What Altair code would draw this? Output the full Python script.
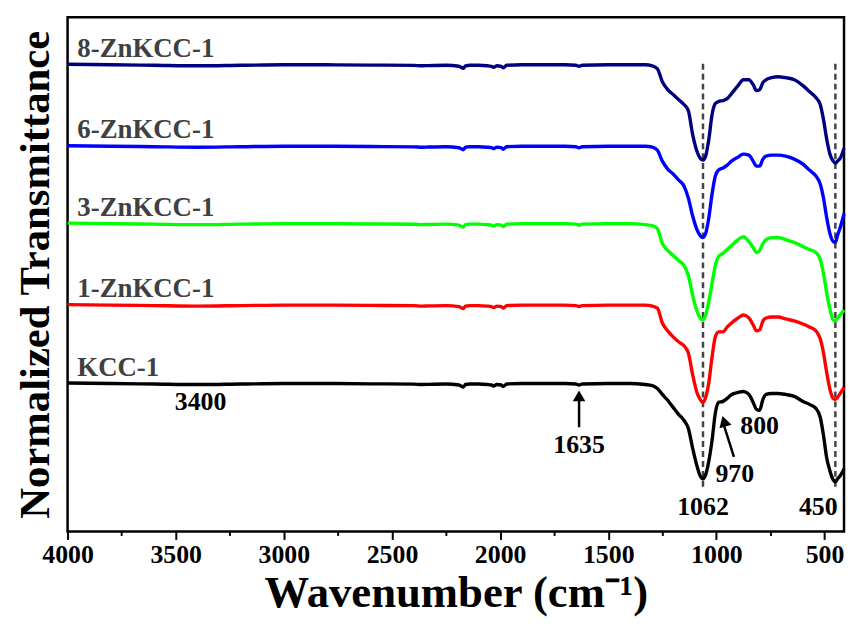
import altair as alt
import pandas as pd

# ---- data ----
SAMPLES = ["8-ZnKCC-1", "6-ZnKCC-1", "3-ZnKCC-1", "1-ZnKCC-1", "KCC-1"]
COLORS = ["#000080", "#0000FF", "#00FF00", "#FF0000", "#000000"]
OFFSETS = [4.70, 3.88, 3.10, 2.28, 1.49]

# flat region (shared)
FLAT_WN = [4000, 3800, 3600, 3400, 3200, 3000, 2800, 2600, 2400, 2360, 2330, 2250,
           2190, 2170, 2160, 2140, 2100, 2060, 2040, 2030, 2015, 1995, 1985, 1970,
           1900, 1800, 1700, 1650, 1635, 1620, 1500, 1400]
FLAT_DEPTH = [-0.5, 0, 0.5, 1, 0.5, 0, 0, 0.3, 0.6, 1.0, 0.8, 0.5,
              1.5, 3.5, 1, 0.5, 0.5, 1, 1.5, 2.5, 1, 1.5, 3, 0.5,
              0, 0, 0, 0.5, 1.5, 0.5, 0, 0]

# fingerprint region
FP_WN = [1330, 1296, 1273, 1250, 1225, 1200, 1175, 1150, 1130, 1110, 1090, 1075,
         1062, 1050, 1035, 1020, 1005, 990, 970, 950, 930, 900, 875, 850, 830,
         815, 800, 785, 770, 745, 715, 680, 640, 600, 570, 540, 520, 505, 490,
         475, 460, 450, 440, 425, 410]
DEPTH_8 = [0, 1, 4, 17, 25, 30, 35, 40, 46, 70, 87, 94,
           96, 92, 75, 50, 39, 37, 36, 34, 29, 21, 15, 15, 20,
           26, 25, 18, 15, 13, 12, 13, 15, 21, 27, 33, 40, 55, 75,
           90, 97, 99, 97, 93, 84]
DEPTH_6 = [0, 1, 4, 15, 23, 28, 34, 40, 52, 70, 84, 90,
           92, 88, 72, 48, 30, 24, 22, 19, 15, 11, 8, 9, 15,
           20, 20, 13, 10, 9, 9, 10, 13, 18, 24, 30, 38, 52, 72,
           88, 96, 97, 90, 80, 68]
DEPTH_3 = [1, 2, 5, 20, 27, 32, 37, 42, 52, 72, 88, 95,
           97, 92, 78, 60, 42, 33, 30, 26, 22, 16, 13, 18, 24,
           29, 27, 20, 16, 14, 14, 16, 19, 23, 26, 29, 36, 50, 70,
           86, 97, 98, 95, 91, 87]
DEPTH_1 = [0, 1, 3, 18, 26, 32, 37, 41, 48, 70, 88, 95,
           98, 93, 78, 52, 32, 27, 27, 22, 18, 13, 10, 13, 20,
           26, 25, 16, 13, 12, 12, 14, 16, 19, 22, 26, 34, 48, 68,
           85, 94, 95, 93, 88, 83]
DEPTH_K = [1, 2, 5, 11, 17, 24, 31, 37, 45, 65, 83, 93,
           96, 92, 78, 57, 30, 19, 18, 15, 11, 9, 8, 11, 19,
           26, 27, 16, 11, 10, 10, 11, 13, 18, 21, 25, 34, 52, 75,
           88, 97, 99, 96, 92, 86]
DEPTHS = [DEPTH_8, DEPTH_6, DEPTH_3, DEPTH_1, DEPTH_K]

DASH_WN = [1062, 450]
DASH_TOP = 4.71
DASH_BOTTOM = 0.41

ANN_TEXT = ["3400", "1635", "1062", "450", "970", "800"]
ANN_X = [3385, 1635, 1062, 529, 915, 800]
ANN_Y = [1.30, 0.87, 0.25, 0.25, 0.58, 1.06]

LABEL_X = 3955
LABEL_DY = 0.16

# arrows: tail -> head
ARROW_X = [1635, 919]
ARROW_Y = [1.05, 0.75]
ARROW_X2 = [1635, 967]
ARROW_Y2 = [1.37, 1.08]
HEAD_X = [1635, 965]
HEAD_Y = [1.365, 1.11]
HEAD_ANGLE = [0, 344]

# ---- build tables ----
rows = []
for s, off, dep in zip(SAMPLES, OFFSETS, DEPTHS):
    for w, d in zip(FLAT_WN + FP_WN, FLAT_DEPTH + dep):
        rows.append({"sample": s, "wn": w, "T": off - d / 100.0})
df = pd.DataFrame(rows)

labels_df = pd.DataFrame({"sample": SAMPLES, "wn": [LABEL_X] * 5,
                          "T": [o + LABEL_DY for o in OFFSETS]})
dash_df = pd.DataFrame({"wn": DASH_WN, "y": [DASH_TOP] * 2, "y2": [DASH_BOTTOM] * 2})
ann_df = pd.DataFrame({"text": ANN_TEXT, "wn": ANN_X, "T": ANN_Y})
arrow_df = pd.DataFrame({"x": ARROW_X, "y": ARROW_Y, "x2": ARROW_X2, "y2": ARROW_Y2})
head_df = pd.DataFrame({"x": HEAD_X, "y": HEAD_Y, "angle": HEAD_ANGLE})

FONT = "Liberation Serif"

xscale = alt.Scale(domain=[410, 4000], reverse=True, nice=False, zero=False)
yscale = alt.Scale(domain=[0, 5.18], nice=False, zero=False)

xaxis = alt.Axis(
    title="Wavenumber (cm⁻¹)",
    values=[4000, 3750, 3500, 3250, 3000, 2750, 2500, 2250, 2000, 1750, 1500,
            1250, 1000, 750, 500],
    format="d",
    labelExpr="datum.value % 500 === 0 ? format(datum.value, 'd') : ''",
    labelOverlap=False,
    labelFlush=False,
    labelFont=FONT, labelFontSize=26, labelFontWeight="bold", labelColor="black",
    labelPadding=2,
    tickSize={"condition": {"test": "datum.value % 500 === 0", "value": 8}, "value": 4},
    tickWidth=2, tickColor="black",
    domain=False, grid=False,
    titleFont=FONT, titleFontSize=45, titleFontWeight="bold", titleColor="black",
    titlePadding=4,
)
yaxis = alt.Axis(
    title="Normalized Transmittance", labels=False, ticks=False, domain=False,
    grid=False, titleFont=FONT, titleFontSize=43, titleFontWeight="bold",
    titleColor="black", titlePadding=10,
)

lines = alt.Chart(df).mark_line(strokeWidth=3.4, interpolate="monotone").encode(
    x=alt.X("wn:Q", scale=xscale, axis=xaxis),
    y=alt.Y("T:Q", scale=yscale, axis=yaxis),
    color=alt.Color("sample:N", scale=alt.Scale(domain=SAMPLES, range=COLORS), legend=None),
    order=alt.Order("wn:Q", sort="descending"),
)

dashes = alt.Chart(dash_df).mark_rule(color="#444444", strokeWidth=2.5, strokeDash=[6, 4]).encode(
    x=alt.X("wn:Q", scale=xscale), y=alt.Y("y:Q", scale=yscale), y2="y2:Q"
)

curve_labels = alt.Chart(labels_df).mark_text(
    font=FONT, fontSize=27, fontWeight="bold", color="#404040", align="left", baseline="middle"
).encode(x=alt.X("wn:Q", scale=xscale), y=alt.Y("T:Q", scale=yscale), text="sample:N")

ann = alt.Chart(ann_df).mark_text(
    font=FONT, fontSize=26, fontWeight="bold", color="black", align="center", baseline="middle"
).encode(x=alt.X("wn:Q", scale=xscale), y=alt.Y("T:Q", scale=yscale), text="text:N")

arrows = alt.Chart(arrow_df).mark_rule(color="black", strokeWidth=2.5).encode(
    x=alt.X("x:Q", scale=xscale), y=alt.Y("y:Q", scale=yscale), x2="x2:Q", y2="y2:Q"
)
heads = alt.Chart(head_df).mark_point(shape="triangle-up", filled=True, size=160,
                                      color="black", opacity=1).encode(
    x=alt.X("x:Q", scale=xscale), y=alt.Y("y:Q", scale=yscale),
    angle=alt.Angle("angle:Q", scale=None),
)

chart = alt.layer(dashes, lines, curve_labels, ann, arrows, heads).properties(
    width=782, height=518,
    autosize=alt.AutoSizeParams(type="none"),
    padding={"left": 60, "top": 7, "right": 2, "bottom": 92},
    background="white",
).configure_view(stroke="black", strokeWidth=2.5)

chart.save("out.html", embed_options={"renderer": "svg", "actions": False})
